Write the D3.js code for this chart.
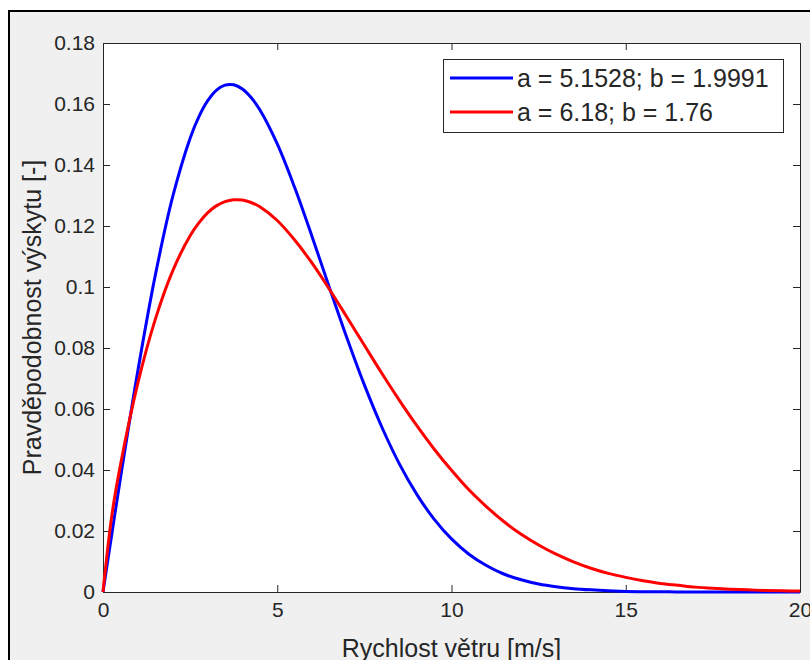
<!DOCTYPE html>
<html>
<head>
<meta charset="utf-8">
<script src="https://cdn.jsdelivr.net/npm/d3@7"></script>
<style>
  body { margin: 0; background: #fff; }
  svg { display: block; font-family: "Liberation Sans", Arial, sans-serif; }
</style>
</head>
<body>
<div class="main"></div>
<script>
const speeds = [0, 0.25, 0.5, 1, 1.5, 2, 2.5, 2.75, 3, 3.25, 3.5, 3.75, 4, 4.25, 4.5, 5, 5.5, 6, 6.5, 7, 7.5, 8, 8.5, 9, 9.5,
    10, 10.5, 11, 11.5, 12, 12.5, 13, 13.5, 14, 14.5, 15, 15.5, 16, 16.5, 17, 17.5, 18, 18.5, 19, 19.5, 20];

const blueVals = [0, 0.0188, 0.0373, 0.0725, 0.1038, 0.1296, 0.1488, 0.1558, 0.1610, 0.1645, 0.1662, 0.1663, 0.1649, 0.1621, 0.1581,
    0.1469, 0.1326, 0.1165, 0.0997, 0.0833, 0.0679, 0.0541, 0.0421, 0.0321, 0.0239,
    0.0174, 0.0124, 0.0087, 0.0059, 0.0040, 0.0026, 0.0017, 0.0011, 0.0007, 0.0004,
    0.0002, 0.0001, 0.0001, 0, 0, 0, 0, 0, 0, 0, 0];

const redVals = [0, 0.0248, 0.0416, 0.0685, 0.0894, 0.1053, 0.1168, 0.1210, 0.1243, 0.1266, 0.1280, 0.1286, 0.1285, 0.1277, 0.1263,
    0.1218, 0.1154, 0.1078, 0.0992, 0.0901, 0.0809, 0.0717, 0.0629, 0.0546, 0.0469,
    0.0399, 0.0335, 0.0280, 0.0231, 0.0189, 0.0154, 0.0124, 0.0099, 0.0078, 0.0061,
    0.0048, 0.0037, 0.0028, 0.0022, 0.0016, 0.0012, 0.0009, 0.0007, 0.0005, 0.0004, 0.0003];

const seriesNames = ['a = 5.1528; b = 1.9991', 'a = 6.18; b = 1.76'];
const seriesColors = ['#0000ff', '#ff0000'];
const xTicks = [0, 5, 10, 15, 20];
const yTicks = [0, 0.02, 0.04, 0.06, 0.08, 0.1, 0.12, 0.14, 0.16, 0.18];
const xTitle = 'Rychlost větru [m/s]', yTitle = 'Pravděpodobnost výskytu [-]';

const w = 810, h = 660,
    plotLeft = 103, plotRight = 800, plotTop = 43, plotBottom = 592,
    axisColor = '#262626';

const svg = d3.select('.main')
    .append('svg')
    .attr('width', w)
    .attr('height', h)

// figure window
svg.append('rect')
    .attr('x', 9).attr('y', 11)
    .attr('width', w + 10).attr('height', h + 10)
    .attr('fill', '#f0f0f0')
    .attr('stroke', '#000')
    .attr('stroke-width', 2)

svg.append('rect')
    .attr('x', plotLeft).attr('y', plotTop)
    .attr('width', plotRight - plotLeft).attr('height', plotBottom - plotTop)
    .attr('fill', '#fff')

const x = d3.scaleLinear().domain([0, 20]).range([plotLeft, plotRight]);
const y = d3.scaleLinear().domain([0, 0.18]).range([plotBottom, plotTop]);

const styleAxis = g => {
    g.select('.domain').attr('stroke', axisColor)
    g.selectAll('.tick line').attr('stroke', axisColor)
    g.selectAll('.tick text')
        .attr('fill', axisColor)
        .attr('font-size', 21)
        .attr('font-family', '"Liberation Sans", Arial, sans-serif')
}

svg.append('g')
    .attr('transform', `translate(0, ${plotBottom})`)
    .call(d3.axisBottom(x).tickValues(xTicks).tickSizeInner(-7).tickSizeOuter(0).tickPadding(10))
    .call(styleAxis)

svg.append('g')
    .attr('transform', `translate(0, ${plotTop})`)
    .call(d3.axisTop(x).tickValues(xTicks).tickSizeInner(-7).tickSizeOuter(0).tickFormat(''))
    .call(styleAxis)

svg.append('g')
    .attr('transform', `translate(${plotLeft}, 0)`)
    .call(d3.axisLeft(y).tickValues(yTicks).tickSizeInner(-7).tickSizeOuter(0).tickPadding(8)
        .tickFormat(d => String(+d.toFixed(2))))
    .call(styleAxis)

svg.append('g')
    .attr('transform', `translate(${plotRight}, 0)`)
    .call(d3.axisRight(y).tickValues(yTicks).tickSizeInner(-7).tickSizeOuter(0).tickFormat(''))
    .call(styleAxis)

svg.append('text')
    .attr('x', (plotLeft + plotRight) / 2)
    .attr('y', 657)
    .attr('text-anchor', 'middle')
    .attr('font-size', 25)
    .attr('fill', axisColor)
    .text(xTitle)

svg.append('text')
    .attr('transform', `translate(41, ${(plotTop + plotBottom) / 2}) rotate(-90)`)
    .attr('text-anchor', 'middle')
    .attr('font-size', 25)
    .attr('fill', axisColor)
    .text(yTitle)

const line = d3.line()
    .x(d => x(d[0]))
    .y(d => y(d[1]))
    .curve(d3.curveCatmullRom.alpha(0.5))

const series = [blueVals, redVals];

svg.selectAll('.curve')
    .data(series)
    .enter()
    .append('path')
    .attr('class', 'curve')
    .attr('d', vals => line(speeds.map((s, i) => [s, vals[i]])))
    .attr('fill', 'none')
    .attr('stroke', (d, i) => seriesColors[i])
    .attr('stroke-width', 3)
    .attr('stroke-linejoin', 'round')

// legend
const legend = svg.append('g')
    .attr('class', 'legend')

legend.append('rect')
    .attr('x', 443.5).attr('y', 59.5)
    .attr('width', 340).attr('height', 73)
    .attr('fill', '#fff')
    .attr('stroke', axisColor)

const rows = legend.selectAll('.row')
    .data(seriesNames)
    .enter()
    .append('g')
    .attr('class', 'row')
    .attr('transform', (d, i) => `translate(450, ${78 + i * 34})`)

rows.append('line')
    .attr('x1', 0).attr('x2', 63)
    .attr('stroke', (d, i) => seriesColors[i])
    .attr('stroke-width', 3)

rows.append('text')
    .attr('x', 67)
    .attr('dy', '0.36em')
    .attr('font-size', 25)
    .attr('fill', axisColor)
    .text(d => d)
</script>
</body>
</html>
